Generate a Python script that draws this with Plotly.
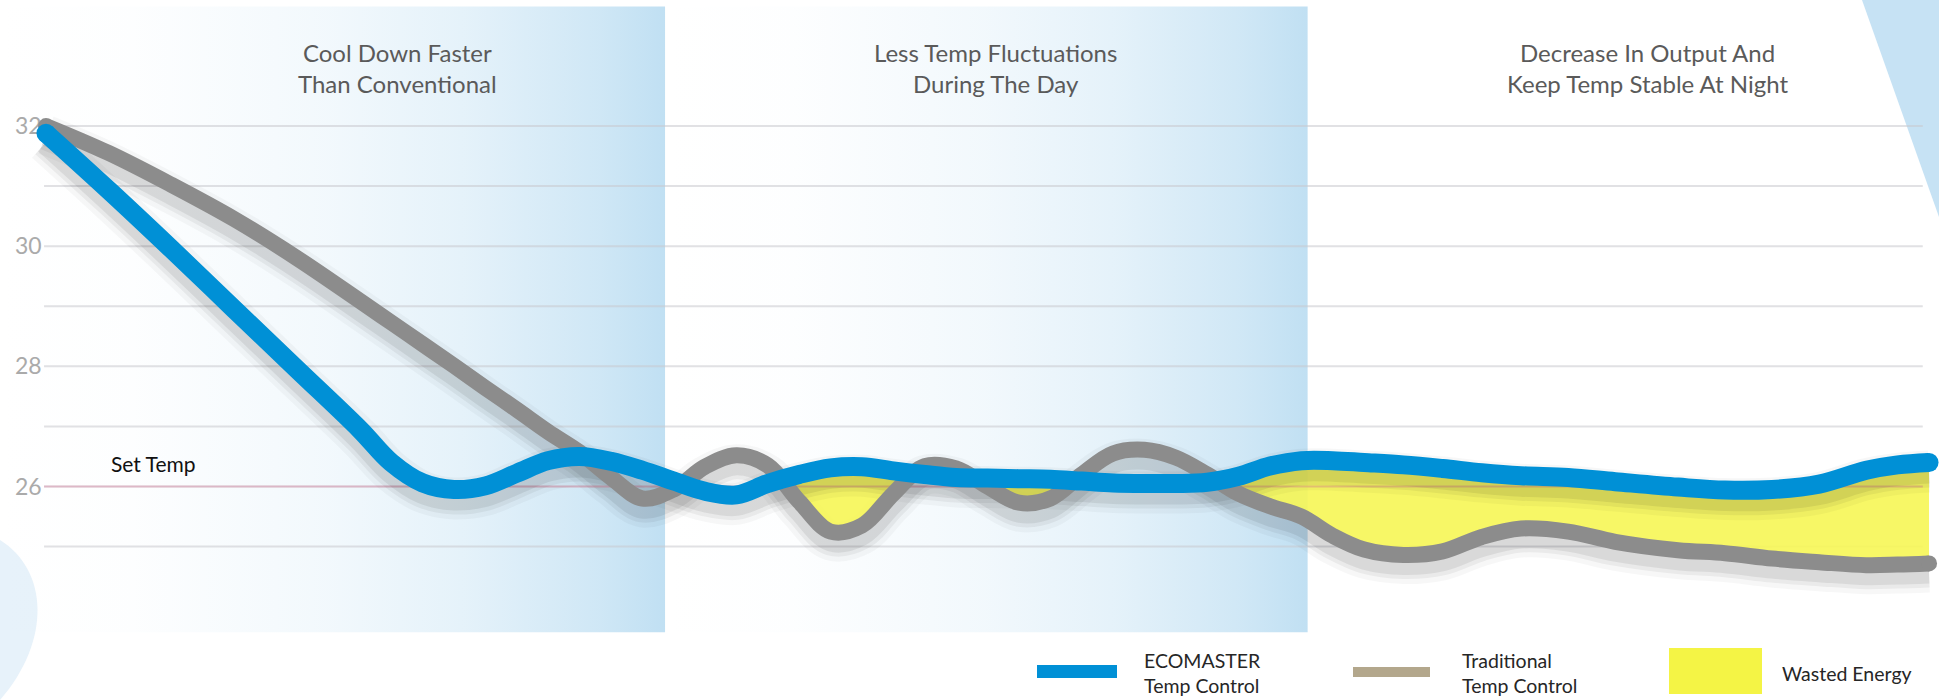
import numpy as np
import plotly.graph_objects as go

# ---------------- data ----------------
hours = [0.0, 0.8, 1.6, 2.4, 3.2, 4.0, 4.4, 4.8, 5.2, 5.6,
         6.0, 6.4, 6.8, 7.2, 7.6, 8.0, 8.4, 8.8, 9.2, 9.6,
         10.0, 10.4, 10.8, 11.2, 11.6, 12.0, 12.4, 12.8, 13.2, 13.6,
         14.0, 14.4, 14.8, 15.2, 15.6, 16.0, 16.4, 16.8, 17.3, 17.8,
         18.3, 18.8, 19.4, 20.0, 20.8, 21.4, 22.0, 22.6, 23.2, 23.6, 24.0]
ecomaster = [31.88, 30.93, 29.95, 28.95, 27.95, 26.95, 26.4, 26.06, 25.95, 26.01,
             26.22, 26.43, 26.5, 26.42, 26.27, 26.09, 25.92, 25.86, 26.05, 26.2,
             26.31, 26.33, 26.26, 26.2, 26.15, 26.14, 26.13, 26.12, 26.09, 26.06,
             26.05, 26.05, 26.07, 26.17, 26.34, 26.43, 26.43, 26.4, 26.36, 26.3,
             26.23, 26.18, 26.15, 26.08, 25.99, 25.94, 25.95, 26.04, 26.27, 26.36, 26.4]
traditional = [32.0, 31.55, 31.02, 30.45, 29.8, 29.09, 28.73, 28.37, 28.01, 27.64,
               27.28, 26.91, 26.57, 26.15, 25.8, 25.95, 26.33, 26.52, 26.35, 25.75,
               25.25, 25.35, 25.88, 26.34, 26.3, 26.0, 25.73, 25.8, 26.2, 26.55,
               26.61, 26.48, 26.2, 25.88, 25.67, 25.5, 25.18, 24.95, 24.86, 24.92,
               25.16, 25.3, 25.25, 25.08, 24.94, 24.89, 24.8, 24.74, 24.69, 24.7, 24.72]
set_temp = 26
wasted_from_hour = 9.2
grid_values = [25, 26, 27, 28, 29, 30, 31, 32]
tick_values = [26, 28, 30, 32]
tick_labels = ["26", "28", "30", "32"]
section_titles = ["Cool Down Faster<br>Than Conventional",
                  "Less Temp Fluctuations<br>During The Day",
                  "Decrease In Output And<br>Keep Temp Stable At Night"]
shaded_sections = [(-0.59, 7.89), (7.89, 16.08)]
legend_labels = ["ECOMASTER<br>Temp Control", "Traditional<br>Temp Control", "Wasted Energy"]

# ---------------- styling / layout constants ----------------
W, H = 1939, 700
X_RANGE = [-0.5863, 24.127]
Y_RANGE = [22.446, 34.098]
GRID_X = [-0.025, 23.92]
BAND_Y = [23.575, 33.99]
TITLE_X = [4.48, 12.10, 20.41]
BLUE = "#0090D6"
GREY = "#8C8C8C"
YELLOW = "rgba(246,246,85,0.9)"
FONT = "Lato"

fig = go.Figure()

# shaded sections with horizontal gradient
band_scale = [[0, "rgba(189,222,242,0)"],
              [0.2, "rgba(189,222,242,0.03)"],
              [0.5, "rgba(189,222,242,0.2)"],
              [0.7, "rgba(189,222,242,0.4)"],
              [0.9, "rgba(189,222,242,0.72)"],
              [1, "rgba(189,222,242,0.95)"]]
for x0, x1 in shaded_sections:
    fig.add_trace(go.Scatter(
        x=[x0, x1, x1, x0, x0], y=[BAND_Y[0], BAND_Y[0], BAND_Y[1], BAND_Y[1], BAND_Y[0]],
        mode="lines", line=dict(width=0), fill="toself",
        fillgradient=dict(type="horizontal", start=x0, stop=x1, colorscale=band_scale),
        hoverinfo="skip", showlegend=False))

# grid lines
for v in grid_values:
    fig.add_trace(go.Scatter(x=GRID_X, y=[v, v], mode="lines",
                             line=dict(color="rgba(200,200,205,0.55)", width=2),
                             hoverinfo="skip", showlegend=False))

eco = np.array(ecomaster)
trad = np.array(traditional)
hrs = np.array(hours)
off = 0.15

# grey shadow
for w, a in [(40, 0.03), (30, 0.05), (22, 0.07)]:
    fig.add_trace(go.Scatter(x=hours, y=list(trad - off), mode="lines",
                             line=dict(color=f"rgba(0,0,0,{a})", width=w, shape="spline"),
                             hoverinfo="skip", showlegend=False))

# wasted energy fill
mask = hrs >= wasted_from_hour
fig.add_trace(go.Scatter(x=list(hrs[mask]), y=list(eco[mask]), mode="lines",
                         line=dict(width=0, shape="spline"), hoverinfo="skip", showlegend=False))
fig.add_trace(go.Scatter(x=list(hrs[mask]), y=list(np.minimum(trad, eco)[mask]), mode="lines",
                         line=dict(width=0, shape="spline"), fill="tonexty", fillcolor=YELLOW,
                         hoverinfo="skip", showlegend=False))

# set temperature line
fig.add_trace(go.Scatter(x=GRID_X, y=[set_temp, set_temp], mode="lines",
                         line=dict(color="rgba(215,110,145,0.35)", width=2),
                         hoverinfo="skip", showlegend=False))

# blue shadow
for w, a in [(42, 0.03), (32, 0.05), (24, 0.07)]:
    fig.add_trace(go.Scatter(x=hours, y=list(eco - off), mode="lines",
                             line=dict(color=f"rgba(0,0,0,{a})", width=w, shape="spline"),
                             hoverinfo="skip", showlegend=False))

# traditional line
fig.add_trace(go.Scatter(x=hours, y=traditional, mode="lines",
                         line=dict(color=GREY, width=16, shape="spline"),
                         name="Traditional Temp Control", hoverinfo="skip", showlegend=False))
fig.add_trace(go.Scatter(x=[hours[0], hours[-1]], y=[traditional[0], traditional[-1]], mode="markers",
                         marker=dict(color=GREY, size=16), hoverinfo="skip", showlegend=False))
# ecomaster line
fig.add_trace(go.Scatter(x=hours, y=ecomaster, mode="lines",
                         line=dict(color=BLUE, width=19, shape="spline"),
                         name="ECOMASTER Temp Control", hoverinfo="skip", showlegend=False))
fig.add_trace(go.Scatter(x=[hours[0], hours[-1]], y=[ecomaster[0], ecomaster[-1]], mode="markers",
                         marker=dict(color=BLUE, size=19), hoverinfo="skip", showlegend=False))

annotations = []
for tx, title in zip(TITLE_X, section_titles):
    annotations.append(dict(x=tx, y=1 - 68 / H, xref="x", yref="paper", text=title,
                            showarrow=False, xanchor="center", yanchor="middle",
                            font=dict(family=FONT, size=24, color="#5a5a5a")))
annotations.append(dict(x=0.80, y=26.39, xref="x", yref="y", text="Set Temp", showarrow=False,
                        xanchor="left", yanchor="middle", font=dict(family=FONT, size=21, color="#111111")))

# custom legend (paper coordinates)
def px(x):
    return x / W


def py(y):
    return 1 - y / H


shapes = []
legend_items = [
    (legend_labels[0], BLUE, (1037, 665, 1117, 678), 1142),
    (legend_labels[1], "#B3A78C", (1353, 667, 1430, 677), 1460),
    (legend_labels[2], "#F4F445", (1669, 648, 1762, 694), 1780),
]
for label, color, (x0, y0, x1, y1), tx in legend_items:
    shapes.append(dict(type="rect", xref="paper", yref="paper", x0=px(x0), x1=px(x1),
                       y0=py(y1), y1=py(y0), fillcolor=color, line=dict(width=0), layer="above"))
    annotations.append(dict(x=px(tx), y=py(673), xref="paper", yref="paper", text=label,
                            showarrow=False, xanchor="left", yanchor="middle", align="left",
                            font=dict(family=FONT, size=19.5, color="#262626")))

# decorative background shapes
shapes.append(dict(type="path", xref="paper", yref="paper",
                   path=f"M {px(1862)},{py(0)} L {px(1939)},{py(0)} L {px(1939)},{py(217)} Z",
                   fillcolor="#C6E2F4", line=dict(width=0), layer="below"))
shapes.append(dict(type="path", xref="paper", yref="paper",
                   path=(f"M {px(0)},{py(540)} C {px(48)},{py(570)} {px(52)},{py(640)} "
                         f"{px(0)},{py(700)} Z"),
                   fillcolor="#E7F2FA", line=dict(width=0), layer="below"))

fig.update_layout(
    width=W, height=H, margin=dict(l=0, r=0, t=0, b=0),
    paper_bgcolor="white", plot_bgcolor="rgba(0,0,0,0)",
    showlegend=False,
    xaxis=dict(range=X_RANGE, visible=False, fixedrange=True),
    yaxis=dict(range=Y_RANGE, showgrid=False, zeroline=False, showline=False,
               tickvals=tick_values, ticktext=tick_labels, ticks="",
               ticklabelposition="inside", ticklabelstandoff=12, layer="below traces",
               tickfont=dict(family=FONT, size=23, color="#AAAAAA"), fixedrange=True),
    annotations=annotations, shapes=shapes,
)

fig.write_html("out.html")
